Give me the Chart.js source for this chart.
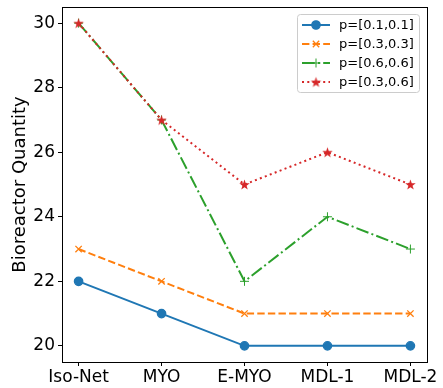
<!DOCTYPE html>
<html>
<head>
<meta charset="utf-8">
<script src="https://cdn.jsdelivr.net/npm/chart.js@4.4.0/dist/chart.umd.min.js"></script>
<style>
  html, body { margin: 0; padding: 0; background: #fff; }
  #wrap { width: 443px; height: 388px; }
</style>
</head>
<body>
<div id="wrap"><canvas id="chart" width="443" height="388"></canvas></div>
<script>
const categories = ["Iso-Net", "MYO", "E-MYO", "MDL-1", "MDL-2"];
const p11 = [22, 21, 20, 20, 20];
const p33 = [23, 22, 21, 21, 21];
const p66 = [30, 27, 22, 24, 23];
const p36 = [30, 27, 25, 26, 25];
const seriesLabels = ["p=[0.1,0.1]", "p=[0.3,0.3]", "p=[0.6,0.6]", "p=[0.3,0.6]"];
const yTicks = [20, 22, 24, 26, 28, 30];

const FONT = "'DejaVu Sans', sans-serif";

// filled 5-point star like matplotlib's '*' marker
function starImage(color, r) {
    const c = document.createElement("canvas");
    const s = Math.ceil(r * 2 + 2);
    c.width = s; c.height = s;
    const g = c.getContext("2d");
    g.fillStyle = color;
    g.beginPath();
    for (let i = 0; i < 10; i++) {
        const rad = i % 2 === 0 ? r : r * 0.4;
        const a = -Math.PI / 2 + i * Math.PI / 5;
        const x = s / 2 + rad * Math.cos(a), y = s / 2 + rad * Math.sin(a) + 0.5;
        if (i === 0) g.moveTo(x, y); else g.lineTo(x, y);
    }
    g.closePath();
    g.fill();
    return c;
}

const pts = arr => arr.map((v, i) => ({ x: i, y: v }));
const star = starImage("#d62728", 5.5);

const styles = [
    { color: "#1f77b4", dash: [], point: "circle", radius: 4.2, bw: 1.3, order: 3 },
    { color: "#ff7f0e", dash: [7.4, 3.2], point: "crossRot", radius: 4.5, bw: 1.3, order: 2 },
    { color: "#2ca02c", dash: [12.8, 3.2, 2, 3.2], point: "cross", radius: 4.5, bw: 1, order: 1 },
    { color: "#d62728", dash: [2, 3.3], point: star, radius: 5, bw: 1, order: 0 }
];

const series = [p11, p33, p66, p36];

const datasets = series.map((s, i) => ({
    label: seriesLabels[i],
    data: pts(s),
    borderColor: styles[i].color,
    backgroundColor: styles[i].color,
    borderWidth: 2,
    borderDash: styles[i].dash,
    pointStyle: styles[i].point,
    pointRadius: styles[i].radius,
    pointBorderWidth: styles[i].bw,
    pointBorderColor: styles[i].color,
    pointBackgroundColor: styles[i].color,
    tension: 0,
    order: styles[i].order
}));

const framePlugin = {
    id: "frame",
    afterDraw(chart) {
        const a = chart.chartArea, ctx = chart.ctx;
        ctx.save();
        ctx.strokeStyle = "#000";
        ctx.lineWidth = 1;
        ctx.strokeRect(Math.round(a.left) + 0.5, Math.round(a.top) + 0.5,
            Math.round(a.right - a.left), Math.round(a.bottom - a.top));

        // legend
        const bx = 297, by = 14, bw = 122, bh = 78;
        ctx.fillStyle = "rgba(255,255,255,0.8)";
        ctx.strokeStyle = "#cccccc";
        ctx.beginPath();
        ctx.roundRect(bx + 0.5, by + 0.5, bw, bh, 3);
        ctx.fill();
        ctx.stroke();
        ctx.font = "13px " + FONT;
        ctx.textBaseline = "middle";
        styles.forEach((st, i) => {
            const y = 25 + i * 19;
            ctx.strokeStyle = st.color;
            ctx.lineWidth = 2;
            ctx.setLineDash(st.dash);
            ctx.beginPath();
            ctx.moveTo(302, y);
            ctx.lineTo(330, y);
            ctx.stroke();
            ctx.setLineDash([]);
            ctx.fillStyle = st.color;
            ctx.lineWidth = st.bw;
            Chart.helpers.drawPoint(ctx, {
                pointStyle: st.point, radius: st.radius, borderWidth: st.bw, rotation: 0
            }, 316, y);
            ctx.fillStyle = "#000";
            ctx.fillText(seriesLabels[i], 339, y + 1);
        });
        ctx.restore();
    }
};

const ctx = document.getElementById("chart").getContext("2d");
new Chart(ctx, {
    type: "line",
    data: { datasets: datasets },
    options: {
        responsive: false,
        animation: false,
        layout: { padding: { top: 7, right: 16, left: 0, bottom: 0 } },
        plugins: { legend: { display: false }, tooltip: { enabled: false } },
        scales: {
            x: {
                type: "linear",
                min: -0.2,
                max: 4.2,
                afterBuildTicks: axis => { axis.ticks = categories.map((c, i) => ({ value: i })); },
                afterFit: axis => {
                    axis.height = 26;
                    axis.paddingLeft = 0;
                    axis.paddingRight = 0;
                },
                ticks: {
                    callback: v => categories[v],
                    color: "#000",
                    font: { family: FONT, size: 17 },
                    padding: 1,
                    maxRotation: 0,
                    autoSkip: false
                },
                grid: { drawOnChartArea: false, tickLength: 4, tickColor: "#000" },
                border: { display: false }
            },
            y: {
                min: 19.5,
                max: 30.5,
                afterBuildTicks: axis => { axis.ticks = yTicks.map(v => ({ value: v })); },
                afterFit: axis => {
                    axis.width = 62;
                    axis.paddingTop = 0;
                    axis.paddingBottom = 0;
                },
                ticks: {
                    color: "#000",
                    font: { family: FONT, size: 17 },
                    padding: 3
                },
                grid: { drawOnChartArea: false, tickLength: 4, tickColor: "#000" },
                border: { display: false },
                title: {
                    display: true,
                    text: "Bioreactor Quantity",
                    color: "#000",
                    font: { family: FONT, size: 18 },
                    padding: { top: 10, bottom: 0 }
                }
            }
        }
    },
    plugins: [framePlugin]
});
</script>
</body>
</html>
